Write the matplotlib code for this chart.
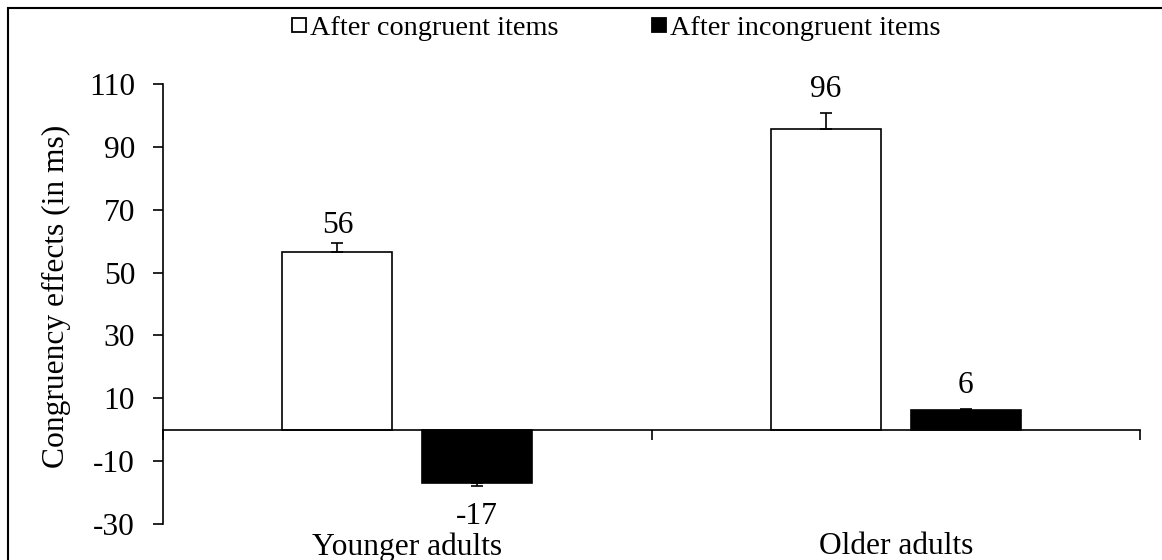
import matplotlib.pyplot as plt
import numpy as np
from matplotlib.lines import Line2D
from matplotlib.patches import Rectangle

plt.rcParams["font.family"] = ["Liberation Serif", "DejaVu Serif"]

GROUPS = ["Younger adults", "Older adults"]
SERIES = ["After congruent items", "After incongruent items"]
CONGRUENT = [56.5, 95.8]
INCONGRUENT = [-17.0, 6.4]
ERR_CONGRUENT = [2.9, 5.0]
ERR_INCONGRUENT = [1.0, 0.3]
LABEL_CONGRUENT = ["56", "96"]
LABEL_INCONGRUENT = ["-17", "6"]
Y_TICKS = [-30, -10, 10, 30, 50, 70, 90, 110]

FS = 22.7        # axis / data labels
FS_LEG = 20.3
LW = 1.2
# gap (pt) between the end of the error bar and the data label
LABEL_GAP = {"56": 7, "96": 11.5, "-17": 11.5, "6": 11.5}

fig = plt.figure(figsize=(11.62, 5.6), dpi=100)
ax = fig.add_axes([163 / 1162, 36 / 560, 977 / 1162, 440 / 560])

x = np.arange(len(GROUPS))
off, width = 0.143, 0.225


def one_sided(vals, errs):
    # error bar only away from zero (as in the source)
    lo = [e if v < 0 else 0 for v, e in zip(vals, errs)]
    hi = [e if v >= 0 else 0 for v, e in zip(vals, errs)]
    return [lo, hi]


ax.bar(x - off, CONGRUENT, width, color="white", edgecolor="black", lw=LW, zorder=2)
ax.bar(x + off, INCONGRUENT, width, color="black", edgecolor="black", lw=LW, zorder=2)
ax.errorbar(x - off, CONGRUENT, yerr=one_sided(CONGRUENT, ERR_CONGRUENT), fmt="none",
            ecolor="black", elinewidth=LW, capsize=4, capthick=LW, zorder=3)
ax.errorbar(x + off, INCONGRUENT, yerr=one_sided(INCONGRUENT, ERR_INCONGRUENT), fmt="none",
            ecolor="black", elinewidth=LW, capsize=4, capthick=LW, zorder=3)

for xs, vals, errs, labels in ((x - off, CONGRUENT, ERR_CONGRUENT, LABEL_CONGRUENT),
                               (x + off, INCONGRUENT, ERR_INCONGRUENT, LABEL_INCONGRUENT)):
    for xi, v, e, s in zip(xs, vals, errs, labels):
        g = LABEL_GAP[s]
        if v < 0:
            ax.annotate(s, (xi, v - e), xytext=(0, -g), textcoords="offset points",
                        ha="center", va="top", fontsize=FS)
        else:
            ax.annotate(s, (xi, v + e), xytext=(0, g), textcoords="offset points",
                        ha="center", va="baseline", fontsize=FS)

ax.set_xlim(-0.5, 1.5)
ax.set_ylim(-30, 110)
ax.set_yticks(Y_TICKS)
ax.set_yticklabels([str(t) for t in Y_TICKS], fontsize=FS)
ax.set_xticks([-0.5, 0.5, 1.5])
ax.set_xticklabels([])
ax.tick_params(axis="y", direction="out", length=7, width=LW, pad=13)
ax.tick_params(axis="x", direction="out", length=7, width=LW)
ax.spines["bottom"].set_position(("data", 0))
for sp in ("top", "right"):
    ax.spines[sp].set_visible(False)
for sp in ("left", "bottom"):
    ax.spines[sp].set_linewidth(LW)

for xi, g in zip(x, GROUPS):
    ax.annotate(g, (xi, -30), xytext=(0, -6), textcoords="offset points",
                ha="center", va="top", fontsize=FS, annotation_clip=False)

fig.text(56 / 1162, 1 - 296 / 560, "Congruency effects (in ms)", rotation=90,
         ha="center", va="center", fontsize=FS)

handles = [Line2D([], [], ls="none", marker="s", ms=10.5, mfc="white", mec="black", mew=1.3),
           Line2D([], [], ls="none", marker="s", ms=10.5, mfc="black", mec="black", mew=1.3)]
fig.legend(handles, SERIES, loc="center", bbox_to_anchor=(616 / 1162, 1 - 28 / 560),
           ncol=2, frameon=False, fontsize=FS_LEG, handlelength=0.5, handletextpad=0.15,
           columnspacing=3.3, borderpad=0)

fig.patches.append(Rectangle((8 / 1162, -0.1), 1.2, 1 - 8 / 560 + 0.1, transform=fig.transFigure,
                             fill=False, ec="black", lw=1.5))

fig.savefig("out.png", dpi=100)
